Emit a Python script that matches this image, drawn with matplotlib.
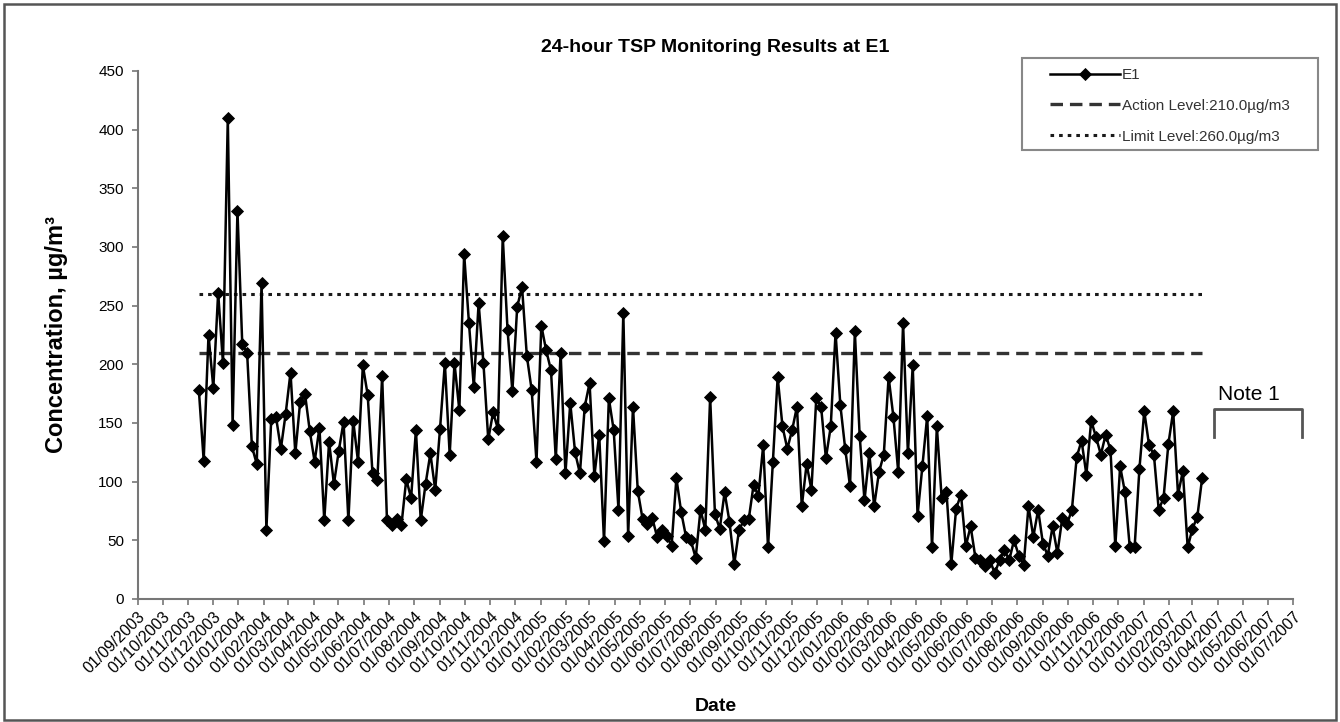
import matplotlib
matplotlib.use("Agg")
import matplotlib.pyplot as plt
import matplotlib.dates as mdates
from matplotlib.patches import Rectangle
from matplotlib.transforms import ScaledTranslation
import pandas as pd

plt.rcParams['font.family'] = ['Liberation Sans', 'DejaVu Sans']
plt.rcParams['lines.scale_dashes'] = False

# -------------------- data --------------------
# 24-hour TSP at E1, one sample roughly every 6 days
first_date = '2003-11-14'
last_date = '2007-03-13'
e1_values = [
    178, 118, 225, 180, 261, 201, 410, 148, 331, 217, 210, 130, 115, 269, 59,
    153, 155, 128, 158, 193, 124, 168, 175, 143, 117, 146, 67, 134, 98, 126,
    151, 67, 152, 117, 199, 174, 107, 101, 190,
    67, 63, 68, 63, 102, 86, 144, 67, 98, 124, 93, 145, 201, 123, 201, 161,
    294, 235, 181, 252, 201, 136, 159, 145, 309, 229, 177, 249, 266, 207, 178,
    117, 233, 212, 195, 119, 210, 107, 167, 125, 107, 164, 184, 105, 140, 49,
    171, 144, 76, 244, 54, 164, 92, 68, 64, 69, 53, 59, 54, 45, 103, 74, 53,
    50, 35, 76, 59, 172, 72, 60, 91, 66, 30, 59, 67, 68, 97, 88, 131, 44, 117,
    189, 147, 128, 144, 164, 79, 115, 93, 171, 164, 120, 147, 227, 165, 128,
    96, 228, 139, 84, 124, 79, 108, 123, 189, 155, 108, 235, 124, 199, 71, 113,
    156, 44, 147, 86, 91, 30, 77, 89, 45, 62, 35, 33, 28, 33, 22, 33, 42, 33,
    50, 37, 29, 79, 53, 76, 47, 37, 62, 39, 69, 64, 76, 121, 135, 106, 152,
    138, 123, 140, 127, 45, 113, 91, 44, 44, 111, 160, 131, 123, 76, 86, 132,
    160, 89, 109, 44, 60, 70, 103,
]
action_level = 210.0
limit_level = 260.0
axis_start = '2003-09-01'
axis_end = '2007-07-01'
y_ticks = [0, 50, 100, 150, 200, 250, 300, 350, 400, 450]

dates = pd.date_range(first_date, last_date, periods=len(e1_values))
month_ticks = pd.date_range(axis_start, axis_end, freq='MS')

# -------------------- figure --------------------
fig = plt.figure(figsize=(13.4, 7.22), dpi=100)
ax = fig.add_axes([0.1028, 0.1704, 0.8621, 0.7313])

ax.plot(dates, e1_values, color='black', lw=1.8, marker='D', ms=6.3,
        mec='black', mfc='black', mew=0.6, label='E1', zorder=3)
ax.plot([dates[0], dates[-1]], [action_level, action_level], color='#333333',
        lw=2.4, linestyle=(0, (9, 5)),
        label='Action Level:{:.1f}µg/m3'.format(action_level), zorder=2)
ax.plot([dates[0], dates[-1]], [limit_level, limit_level], color='#1a1a1a',
        lw=2.2, linestyle=(0, (2.6, 3.6)),
        label='Limit Level:{:.1f}µg/m3'.format(limit_level), zorder=2)

ax.set_xlim(pd.Timestamp(axis_start), pd.Timestamp(axis_end))
ax.set_ylim(y_ticks[0], y_ticks[-1])
ax.set_yticks(y_ticks)
ax.set_xticks(month_ticks)
ax.xaxis.set_major_formatter(mdates.DateFormatter('%d/%m/%Y'))

shift = ScaledTranslation(-8 / 100, -10 / 100, fig.dpi_scale_trans)
for lab in ax.get_xticklabels():
    lab.set_rotation(45)
    lab.set_ha('right')
    lab.set_rotation_mode('anchor')
    lab.set_fontsize(11.5)
    lab.set_transform(lab.get_transform() + shift)
plt.setp(ax.get_yticklabels(), fontsize=11)

for side in ['top', 'right']:
    ax.spines[side].set_visible(False)
for side in ['left', 'bottom']:
    ax.spines[side].set_color('#777777')
    ax.spines[side].set_linewidth(1.5)
ax.tick_params(axis='both', colors='#777777', labelcolor='black', length=4,
               width=1.2, direction='out')
ax.tick_params(axis='x', pad=3)
ax.tick_params(axis='y', pad=6)

ax.set_title('24-hour TSP Monitoring Results at E1', fontsize=14,
             fontweight='bold', pad=14)
ax.set_ylabel('Concentration, µg/m³', fontsize=17, fontweight='bold',
              labelpad=22)
ax.set_xlabel('Date', fontsize=14, fontweight='bold', labelpad=16)

# legend: frame drawn separately so the inner margins match
leg = ax.legend(loc='upper left', bbox_to_anchor=(1050 / 1340, 1 - 68 / 722),
                bbox_transform=fig.transFigure, borderaxespad=0, borderpad=0,
                fontsize=11, handlelength=4.6, handletextpad=0.1,
                labelspacing=1.1, frameon=False, numpoints=1)
for t in leg.get_texts():
    t.set_color('#333333')
fig.patches.append(Rectangle((1022 / 1340, 1 - 150 / 722), 296 / 1340,
                             92 / 722, transform=fig.transFigure, fill=False,
                             edgecolor='#888888', lw=1.5))

# Note 1 bracket
ax.plot([0.932, 0.932, 1.008, 1.008], [0.307, 0.36, 0.36, 0.307],
        transform=ax.transAxes, color='#555555', lw=2, clip_on=False)
ax.text(0.962, 0.388, 'Note 1', transform=ax.transAxes, fontsize=15,
        ha='center', va='center')

# outer chart border
fig.patches.append(Rectangle((0.003, 0.003), 0.994, 0.991,
                             transform=fig.transFigure, fill=False,
                             edgecolor='#555555', lw=1.8))

fig.savefig('out.png', dpi=100)
